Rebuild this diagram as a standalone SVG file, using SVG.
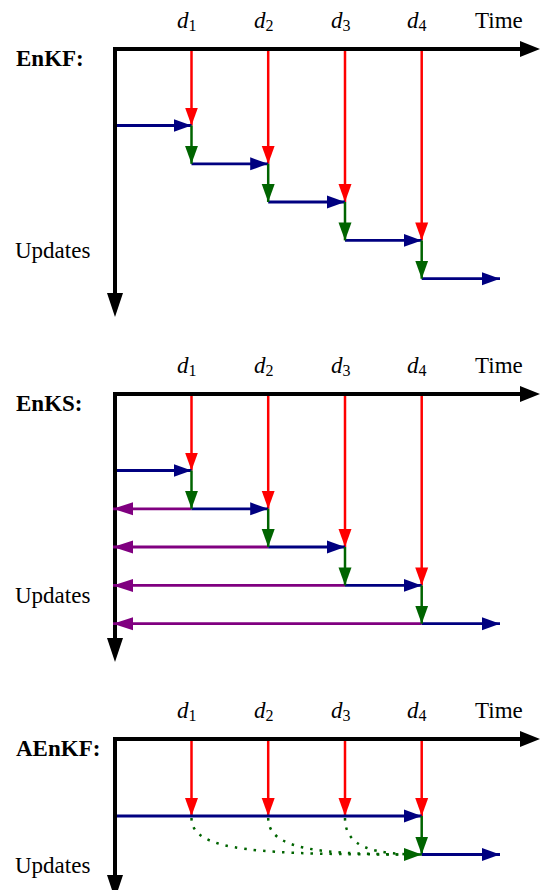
<svg xmlns="http://www.w3.org/2000/svg" width="540" height="890" viewBox="0 0 540 890">
<style>
text{font-family:"Liberation Serif","Times New Roman",serif;fill:#000}
.lbl{font-size:23px}
.ttl{font-size:23px;font-weight:bold}
.d{font-size:23px;font-style:italic}
.sub{font-size:16px;font-style:normal}
.axis{fill:none;stroke:#000;stroke-width:4;stroke-linejoin:miter}
.ah{fill:#000}
.r{stroke:#ff0000;stroke-width:2.5;fill:none;marker-end:url(#mr)}
.b{stroke:#000080;stroke-width:2.8;fill:none;marker-end:url(#mb)}
.g{stroke:#006400;stroke-width:2.5;fill:none;marker-end:url(#mg)}
.p{stroke:#800080;stroke-width:2.8;fill:none;marker-end:url(#mp)}
.dot{stroke:#006400;stroke-width:2.5;fill:none;stroke-dasharray:2.5 7}
</style>
<defs>
<marker id="mr" markerUnits="userSpaceOnUse" markerWidth="18" markerHeight="14" refX="18" refY="7" orient="auto"><path d="M0,0.5 L18,7 L0,13.5 z" fill="#ff0000"/></marker>
<marker id="mb" markerUnits="userSpaceOnUse" markerWidth="18" markerHeight="14" refX="18" refY="7" orient="auto"><path d="M0,0.5 L18,7 L0,13.5 z" fill="#000080"/></marker>
<marker id="mg" markerUnits="userSpaceOnUse" markerWidth="18" markerHeight="14" refX="18" refY="7" orient="auto"><path d="M0,0.5 L18,7 L0,13.5 z" fill="#006400"/></marker>
<marker id="mp" markerUnits="userSpaceOnUse" markerWidth="20" markerHeight="14" refX="20" refY="7" orient="auto"><path d="M0,0.5 L20,7 L0,13.5 z" fill="#800080"/></marker>
</defs>

<!-- Panel 1: EnKF -->
<g id="enkf">
  <g id="enkf-labels">
    <text class="ttl" x="16" y="66">EnKF:</text>
    <text class="lbl" x="15" y="258">Updates</text>
    <text class="lbl" x="475" y="28">Time</text>
    <text class="d" x="177" y="28">d<tspan class="sub" dy="3">1</tspan></text>
    <text class="d" x="254" y="28">d<tspan class="sub" dy="3">2</tspan></text>
    <text class="d" x="331" y="28">d<tspan class="sub" dy="3">3</tspan></text>
    <text class="d" x="407" y="28">d<tspan class="sub" dy="3">4</tspan></text>
  </g>
  <g id="enkf-axes">
    <path class="axis" d="M115,295 L115,49 L522,49"/>
    <polygon class="ah" points="520,41 540,49 520,57"/>
    <polygon class="ah" points="107,293 115,317 123,293"/>
  </g>
  <g id="enkf-connectors">
    <line class="r" x1="191.5" y1="51" x2="191.5" y2="125.5"/>
    <line class="r" x1="268.2" y1="51" x2="268.2" y2="163.8"/>
    <line class="r" x1="345" y1="51" x2="345" y2="202"/>
    <line class="r" x1="421.7" y1="51" x2="421.7" y2="240.4"/>
    <line class="b" x1="117" y1="125.5" x2="191.5" y2="125.5"/>
    <line class="b" x1="191.5" y1="163.8" x2="268.2" y2="163.8"/>
    <line class="b" x1="268.2" y1="202" x2="345" y2="202"/>
    <line class="b" x1="345" y1="240.4" x2="421.7" y2="240.4"/>
    <line class="b" x1="421.7" y1="278.7" x2="500" y2="278.7"/>
    <line class="g" x1="191.5" y1="125.5" x2="191.5" y2="163.8"/>
    <line class="g" x1="268.2" y1="163.8" x2="268.2" y2="202"/>
    <line class="g" x1="345" y1="202" x2="345" y2="240.4"/>
    <line class="g" x1="421.7" y1="240.4" x2="421.7" y2="278.7"/>
  </g>
</g>

<!-- Panel 2: EnKS -->
<g id="enks">
  <g id="enks-labels">
    <text class="ttl" x="16" y="411">EnKS:</text>
    <text class="lbl" x="15" y="603">Updates</text>
    <text class="lbl" x="475" y="373">Time</text>
    <text class="d" x="177" y="373">d<tspan class="sub" dy="3">1</tspan></text>
    <text class="d" x="254" y="373">d<tspan class="sub" dy="3">2</tspan></text>
    <text class="d" x="331" y="373">d<tspan class="sub" dy="3">3</tspan></text>
    <text class="d" x="407" y="373">d<tspan class="sub" dy="3">4</tspan></text>
  </g>
  <g id="enks-axes">
    <path class="axis" d="M115,640 L115,394 L522,394"/>
    <polygon class="ah" points="520,386 540,394 520,402"/>
    <polygon class="ah" points="107,638 115,662 123,638"/>
  </g>
  <g id="enks-connectors">
    <line class="r" x1="191.5" y1="396" x2="191.5" y2="470.5"/>
    <line class="r" x1="268.2" y1="396" x2="268.2" y2="508.8"/>
    <line class="r" x1="345" y1="396" x2="345" y2="547"/>
    <line class="r" x1="421.7" y1="396" x2="421.7" y2="585.4"/>
    <line class="p" x1="191.5" y1="508.8" x2="113" y2="508.8"/>
    <line class="p" x1="268.2" y1="547" x2="113" y2="547"/>
    <line class="p" x1="345" y1="585.4" x2="113" y2="585.4"/>
    <line class="p" x1="421.7" y1="623.7" x2="113" y2="623.7"/>
    <line class="b" x1="117" y1="470.5" x2="191.5" y2="470.5"/>
    <line class="b" x1="191.5" y1="508.8" x2="268.2" y2="508.8"/>
    <line class="b" x1="268.2" y1="547" x2="345" y2="547"/>
    <line class="b" x1="345" y1="585.4" x2="421.7" y2="585.4"/>
    <line class="b" x1="421.7" y1="623.7" x2="500" y2="623.7"/>
    <line class="g" x1="191.5" y1="470.5" x2="191.5" y2="508.8"/>
    <line class="g" x1="268.2" y1="508.8" x2="268.2" y2="547"/>
    <line class="g" x1="345" y1="547" x2="345" y2="585.4"/>
    <line class="g" x1="421.7" y1="585.4" x2="421.7" y2="623.7"/>
  </g>
</g>

<!-- Panel 3: AEnKF -->
<g id="aenkf">
  <g id="aenkf-labels">
    <text class="ttl" x="16" y="756">AEnKF:</text>
    <text class="lbl" x="15" y="873">Updates</text>
    <text class="lbl" x="475" y="718">Time</text>
    <text class="d" x="177" y="718">d<tspan class="sub" dy="3">1</tspan></text>
    <text class="d" x="254" y="718">d<tspan class="sub" dy="3">2</tspan></text>
    <text class="d" x="331" y="718">d<tspan class="sub" dy="3">3</tspan></text>
    <text class="d" x="407" y="718">d<tspan class="sub" dy="3">4</tspan></text>
  </g>
  <g id="aenkf-axes">
    <path class="axis" d="M115,877 L115,739 L522,739"/>
    <polygon class="ah" points="520,731 540,739 520,747"/>
    <polygon class="ah" points="107,875 115,899 123,875"/>
  </g>
  <g id="aenkf-connectors">
    <line class="r" x1="191.5" y1="741" x2="191.5" y2="816"/>
    <line class="r" x1="268.2" y1="741" x2="268.2" y2="816"/>
    <line class="r" x1="345" y1="741" x2="345" y2="816"/>
    <line class="r" x1="421.7" y1="741" x2="421.7" y2="816"/>
    <line class="b" x1="117" y1="816" x2="421.7" y2="816"/>
    <line class="g" x1="421.7" y1="816" x2="421.7" y2="854.5"/>
    <line class="b" x1="421.7" y1="854.5" x2="500" y2="854.5"/>
    <path class="dot" d="M191.5,818 C191.5,852 260,854.5 421.7,854.5"/>
    <path class="dot" d="M268.2,818 C268.2,850 320,854.5 421.7,854.5"/>
    <path class="dot" d="M345,818 C345,848 375,854.5 421.7,854.5"/>
    <line class="g" x1="405" y1="854.5" x2="421.7" y2="854.5"/>
  </g>
</g>
</svg>
